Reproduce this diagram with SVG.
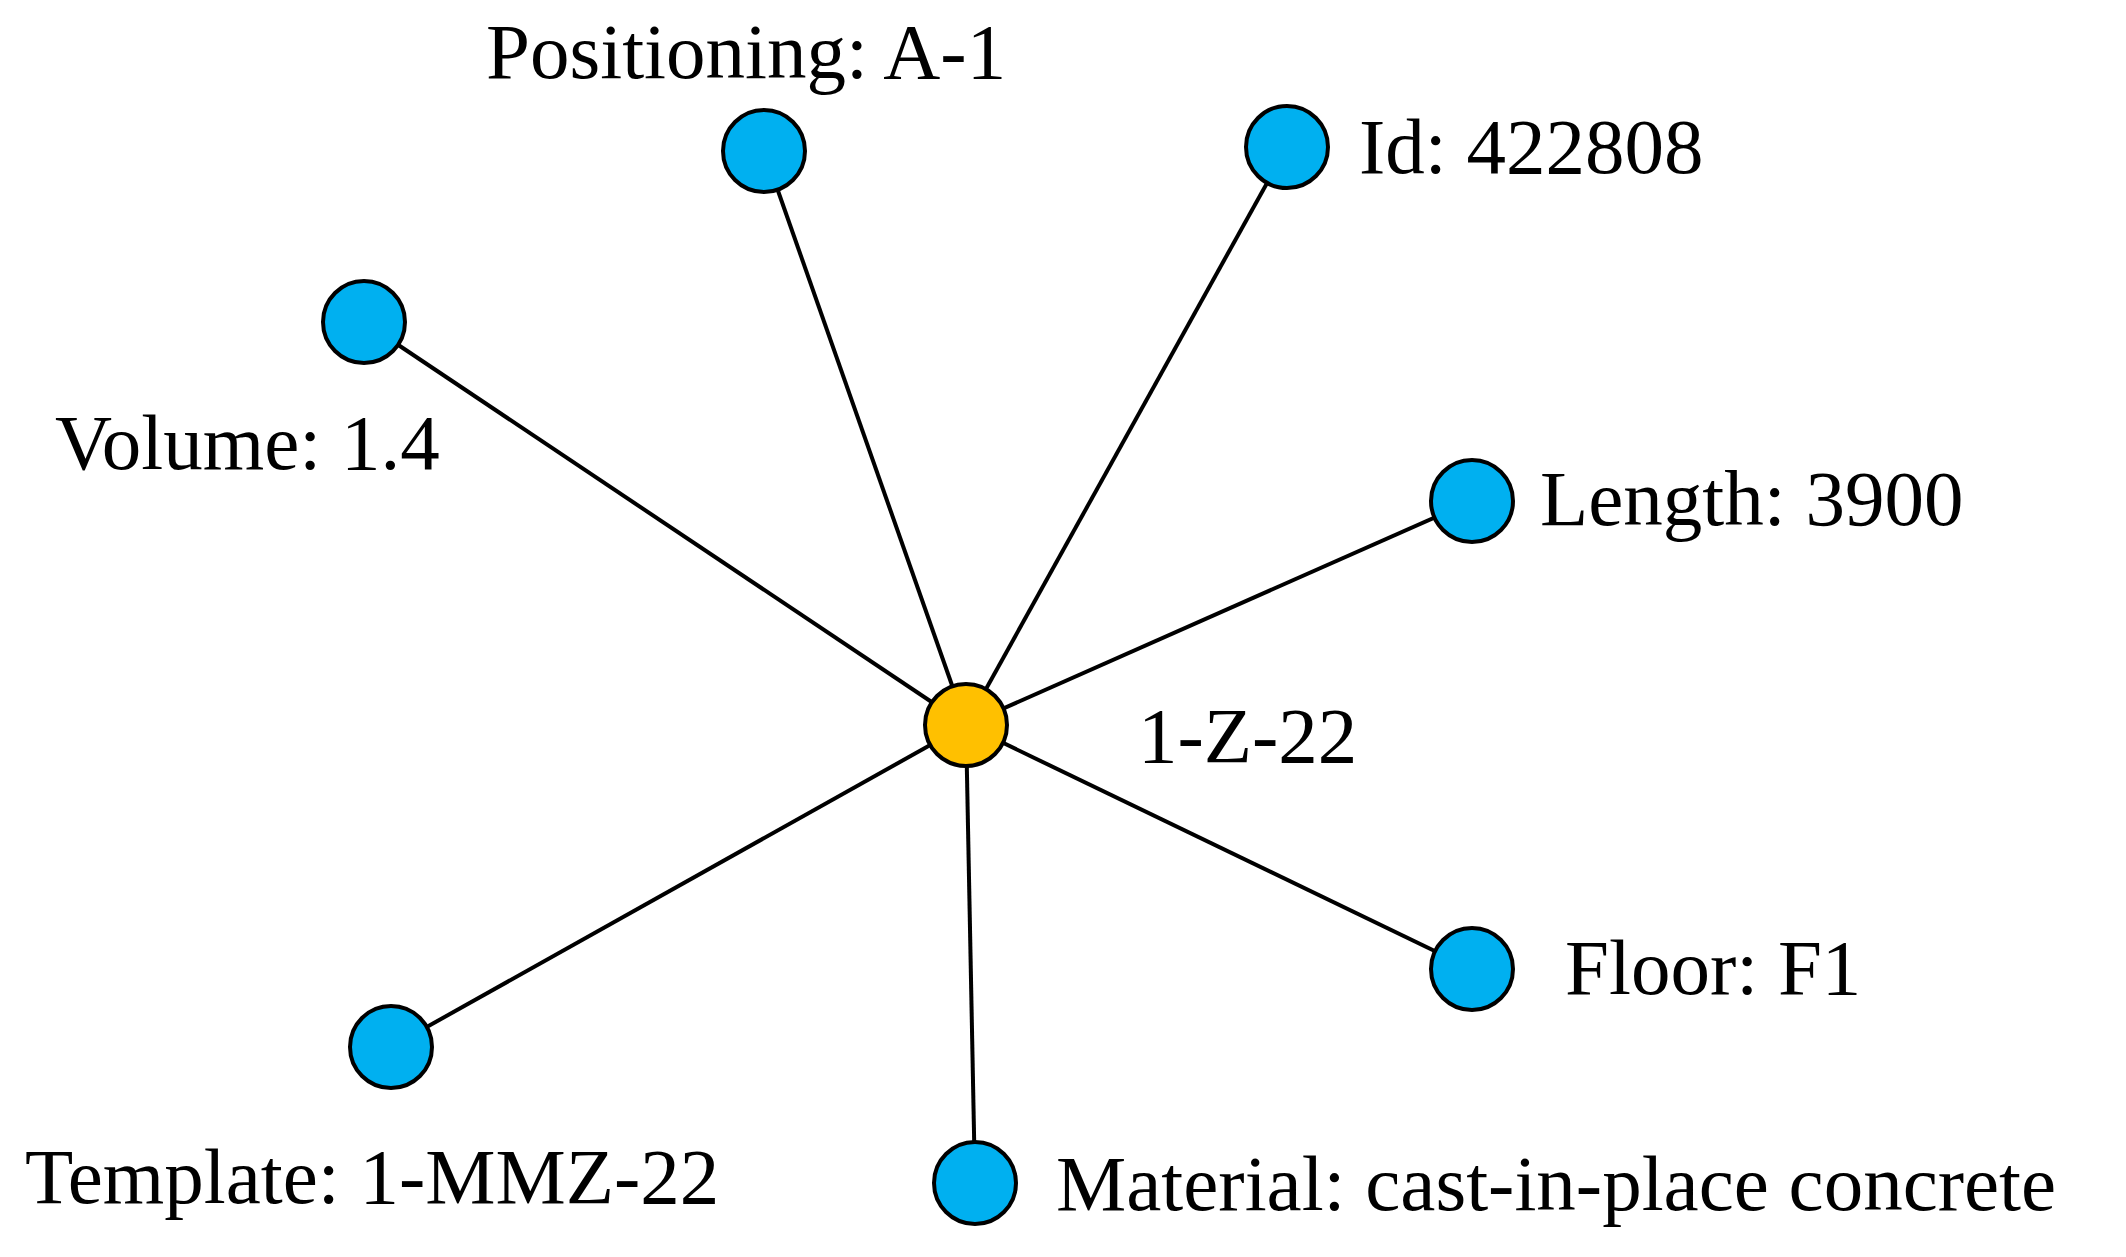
<svg xmlns="http://www.w3.org/2000/svg" width="2126" height="1257" viewBox="0 0 2126 1257">
<style>
.n{fill:#00b0f0;stroke:#000;stroke-width:4}
.c{fill:#ffc000;stroke:#000;stroke-width:4}
.e line{stroke:#000;stroke-width:4}
text{font-family:"Liberation Serif",serif;font-size:79px;fill:#000}
</style>
<rect width="2126" height="1257" fill="#fff"/>
<g class="e" id="edges">
<line x1="966" y1="725" x2="764" y2="151"/>
<line x1="966" y1="725" x2="1287" y2="147"/>
<line x1="966" y1="725" x2="364" y2="322"/>
<line x1="966" y1="725" x2="1472" y2="501"/>
<line x1="966" y1="725" x2="1472" y2="969"/>
<line x1="966" y1="725" x2="391" y2="1047"/>
<line x1="966" y1="725" x2="975" y2="1183"/>
</g>
<g id="center"><circle class="c" cx="966" cy="725" r="41"/><text x="1138" y="762">1-Z-22</text></g>
<g id="positioning"><circle class="n" cx="764" cy="151" r="41"/><text x="486" y="78">Positioning: A-1</text></g>
<g id="id"><circle class="n" cx="1287" cy="147" r="41"/><text x="1359" y="173">Id: 422808</text></g>
<g id="volume"><circle class="n" cx="364" cy="322" r="41"/><text x="55" y="469">Volume: 1.4</text></g>
<g id="length"><circle class="n" cx="1472" cy="501" r="41"/><text x="1540" y="525">Length: 3900</text></g>
<g id="floor"><circle class="n" cx="1472" cy="969" r="41"/><text x="1565" y="994">Floor: F1</text></g>
<g id="template"><circle class="n" cx="391" cy="1047" r="41"/><text x="25" y="1203">Template: 1-MMZ-22</text></g>
<g id="material"><circle class="n" cx="975" cy="1183" r="41"/><text x="1056" y="1210">Material: cast-in-place concrete</text></g>
</svg>
